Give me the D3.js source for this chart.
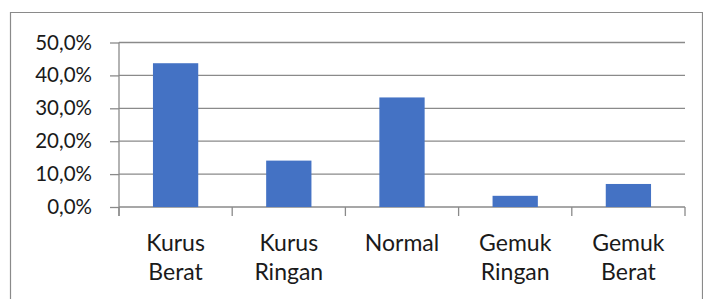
<!DOCTYPE html>
<html>
<head>
<meta charset="utf-8">
<script src="https://cdn.jsdelivr.net/npm/d3@7"></script>
<style>
html,body{margin:0;padding:0;background:#fff;}
svg{display:block;}
text{font-family:Lato, "Open Sans", sans-serif;fill:#1a1a1a;}
</style>
</head>
<body>
<svg id="chart" width="703" height="299"></svg>
<script>
const categories = [["Kurus","Berat"],["Kurus","Ringan"],["Normal"],["Gemuk","Ringan"],["Gemuk","Berat"]];
const values = [43.7, 14.1, 33.3, 3.4, 7.0];
const yTicks = [0, 10, 20, 30, 40, 50];

(function () {
const W = 703, H = 299;
const pLeft = 119, pRight = 685, pTop = 42.5, pBottom = 207;
const svg = d3.select("#chart");
const grid = "#8a8a8a";

// outer chart border
svg.append("path")
  .attr("d", `M10.5,${H} V12.5 H702.5 V${H}`)
  .attr("fill", "none").attr("stroke", grid).attr("stroke-width", 1.2);

const x = d3.scaleBand().domain(d3.range(categories.length))
  .range([pLeft, pRight]).paddingInner(0.6).paddingOuter(0.3);
const y = d3.scaleLinear().domain([0, 50]).range([pBottom, pTop]);

// gridlines
svg.append("g").selectAll("line").data(yTicks.filter(d => d > 0)).join("line")
  .attr("x1", pLeft).attr("x2", pRight)
  .attr("y1", d => y(d)).attr("y2", d => y(d))
  .attr("stroke", grid).attr("stroke-width", 1.3);

// y axis
const yAxis = d3.axisLeft(y).tickValues(yTicks).tickSize(9).tickPadding(18)
  .tickFormat(d => d.toFixed(1).replace(".", ",") + "%");
const gy = svg.append("g").attr("transform", `translate(${pLeft},0)`).call(yAxis);
gy.select(".domain").remove();
gy.selectAll(".tick line").attr("stroke", grid).attr("stroke-width", 1.3);
gy.selectAll(".tick text").attr("font-size", 20.5).attr("fill", "#1a1a1a")
  .attr("font-family", "Lato, sans-serif");
svg.append("line").attr("x1", pLeft).attr("x2", pLeft).attr("y1", pTop).attr("y2", pBottom + 9)
  .attr("stroke", grid).attr("stroke-width", 1.3);

// x axis line + boundary ticks
svg.append("line").attr("x1", pLeft).attr("x2", pRight).attr("y1", pBottom).attr("y2", pBottom)
  .attr("stroke", grid).attr("stroke-width", 1.3);
const step = x.step();
const edges = d3.range(categories.length + 1).map(i => pLeft + i * step);
svg.append("g").selectAll("line").data(edges).join("line")
  .attr("x1", d => d).attr("x2", d => d).attr("y1", pBottom).attr("y2", pBottom + 9)
  .attr("stroke", grid).attr("stroke-width", 1.3);

// bars
svg.append("g").selectAll("rect").data(values).join("rect")
  .attr("x", (d, i) => x(i)).attr("width", x.bandwidth())
  .attr("y", d => y(d)).attr("height", d => y(0) - y(d))
  .attr("fill", "#4472C4");

// x labels
const lab = svg.append("g").selectAll("text").data(categories).join("text")
  .attr("x", (d, i) => x(i) + x.bandwidth() / 2)
  .attr("text-anchor", "middle").attr("font-size", 23);
lab.each(function(d) {
  const t = d3.select(this);
  d.forEach((s, k) => t.append("tspan").attr("x", t.attr("x")).attr("y", 251 + k * 29).text(s));
});
})();
</script>
</body>
</html>
